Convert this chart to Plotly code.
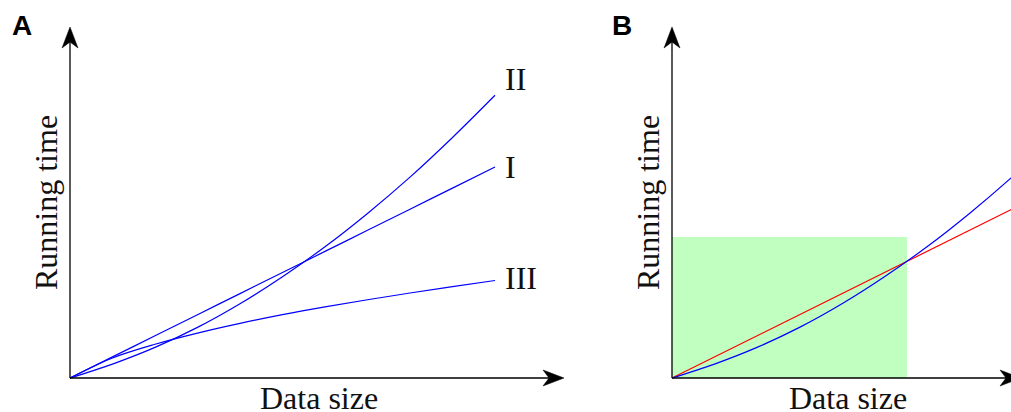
import plotly.graph_objects as go

W, H = 1011, 412

# ---- data ----
n = [0, 1, 2, 3, 4, 5, 6, 7, 8, 9, 10]
line_I = [0, 1, 2, 3, 4, 5, 6, 7, 8, 9, 10]
line_II = [0, 0.66, 1.45, 2.4, 3.52, 4.8, 6.22, 7.8, 9.52, 11.4, 13.4]
line_III = [0, 0.95, 1.6, 2.13, 2.59, 3.0, 3.37, 3.71, 4.03, 4.33, 4.62]
curve_labels = ["I", "II", "III"]
label_shift = [0, 16, 3]
panel_letters = ["A", "B"]
x_title = "Data size"
y_title = "Running time"
rect_x = [0, 5.53]
rect_y = [0, 6.68]

# ---- geometry (pixels) ----
PXX, PXY = 42.5, 21.1
ORIG_Y = 378
ORIG_A, ORIG_B = 70, 672
SPLIT = 600

BLUE = "#0000ff"
RED = "#ff0000"
GREEN = "#c0ffc0"
SERIF = "Liberation Serif"

fig = go.Figure()

yr = [-(H - ORIG_Y) / PXY, ORIG_Y / PXY]

# Panel A curves
for ys in (line_I, line_II, line_III):
    fig.add_trace(go.Scatter(x=n, y=ys, mode="lines", line=dict(color=BLUE, width=1.2, shape="spline"),
                             xaxis="x", yaxis="y", hoverinfo="skip", showlegend=False))

# Panel B
rx = [rect_x[0], rect_x[1], rect_x[1], rect_x[0], rect_x[0]]
ry = [rect_y[0], rect_y[0], rect_y[1], rect_y[1], rect_y[0]]
fig.add_trace(go.Scatter(x=rx, y=ry, mode="lines", fill="toself", fillcolor=GREEN,
                         line=dict(width=0, color=GREEN), xaxis="x2", yaxis="y2",
                         hoverinfo="skip", showlegend=False))
fig.add_trace(go.Scatter(x=n, y=line_I, mode="lines", line=dict(color=RED, width=1.2),
                         xaxis="x2", yaxis="y2", hoverinfo="skip", showlegend=False))
fig.add_trace(go.Scatter(x=n, y=line_II, mode="lines", line=dict(color=BLUE, width=1.2, shape="spline"),
                         xaxis="x2", yaxis="y2", hoverinfo="skip", showlegend=False))

ax_common = dict(visible=False, showgrid=False, zeroline=False, fixedrange=True)
fig.update_layout(
    width=W, height=H,
    margin=dict(l=0, r=0, t=0, b=0),
    paper_bgcolor="white", plot_bgcolor="white",
    xaxis=dict(domain=[0, SPLIT / W], range=[-ORIG_A / PXX, (SPLIT - ORIG_A) / PXX], anchor="y", **ax_common),
    yaxis=dict(domain=[0, 1], range=yr, anchor="x", **ax_common),
    xaxis2=dict(domain=[SPLIT / W, 1], range=[(SPLIT - ORIG_B) / PXX, (W - ORIG_B) / PXX], anchor="y2", **ax_common),
    yaxis2=dict(domain=[0, 1], range=yr, anchor="x2", **ax_common),
    showlegend=False,
    hovermode=False,
)

# ---- axes with stealth arrowheads ----
y_tip = (ORIG_Y - 27) / PXY
x_tip_A = (564 - ORIG_A) / PXX
x_tip_B = (1021 - ORIG_B) / PXX
shapes = []
for xr, yrf, xt in (("x", "y", x_tip_A), ("x2", "y2", x_tip_B)):
    shapes.append(dict(type="line", xref=xr, yref=yrf, x0=0, y0=0, x1=0, y1=y_tip - 0.5,
                       line=dict(color="black", width=1.3), layer="above"))
    shapes.append(dict(type="line", xref=xr, yref=yrf, x0=0, y0=0, x1=xt - 0.3, y1=0,
                       line=dict(color="black", width=1.3), layer="above"))
    shapes.append(dict(type="path", xref=xr, yref=yrf, xsizemode="pixel", ysizemode="pixel",
                       xanchor=0, yanchor=y_tip, path="M 0 0 L -8 -21 L 0 -15 L 8 -21 Z",
                       fillcolor="black", line=dict(color="black", width=0.5), layer="above"))
    shapes.append(dict(type="path", xref=xr, yref=yrf, xsizemode="pixel", ysizemode="pixel",
                       xanchor=xt, yanchor=0, path="M 0 0 L -21 8 L -15 0 L -21 -8 Z",
                       fillcolor="black", line=dict(color="black", width=0.5), layer="above"))
fig.update_layout(shapes=shapes)

# ---- text ----
def px(xp):
    return xp / W

def py(yp):
    return 1 - yp / H

ann = []
for lab, ys, sh in zip(curve_labels, (line_I, line_II, line_III), label_shift):
    ann.append(dict(x=n[-1], y=ys[-1], xref="x", yref="y", text=lab, showarrow=False,
                    xanchor="left", yanchor="middle", xshift=8, yshift=sh,
                    font=dict(family=SERIF, size=32, color="#111")))
for cx in (319, 848):
    ann.append(dict(x=px(cx), y=py(398), xref="paper", yref="paper", text=x_title, showarrow=False,
                    xanchor="center", yanchor="middle", font=dict(family=SERIF, size=32, color="#111")))
for cx in (46, 648):
    ann.append(dict(x=px(cx), y=py(203), xref="paper", yref="paper", text=y_title, showarrow=False,
                    textangle=-90, xanchor="center", yanchor="middle",
                    font=dict(family=SERIF, size=32, color="#111")))
for lab, cx in zip(panel_letters, (22, 622)):
    ann.append(dict(x=px(cx), y=py(26), xref="paper", yref="paper", text="<b>%s</b>" % lab,
                    showarrow=False, xanchor="center", yanchor="middle",
                    font=dict(family="Liberation Sans", size=28, color="black")))
fig.update_layout(annotations=ann)

fig.write_html("out.html", config={"displayModeBar": False, "staticPlot": True},
               post_script="document.body.style.margin='0';document.body.style.overflow='hidden';")
